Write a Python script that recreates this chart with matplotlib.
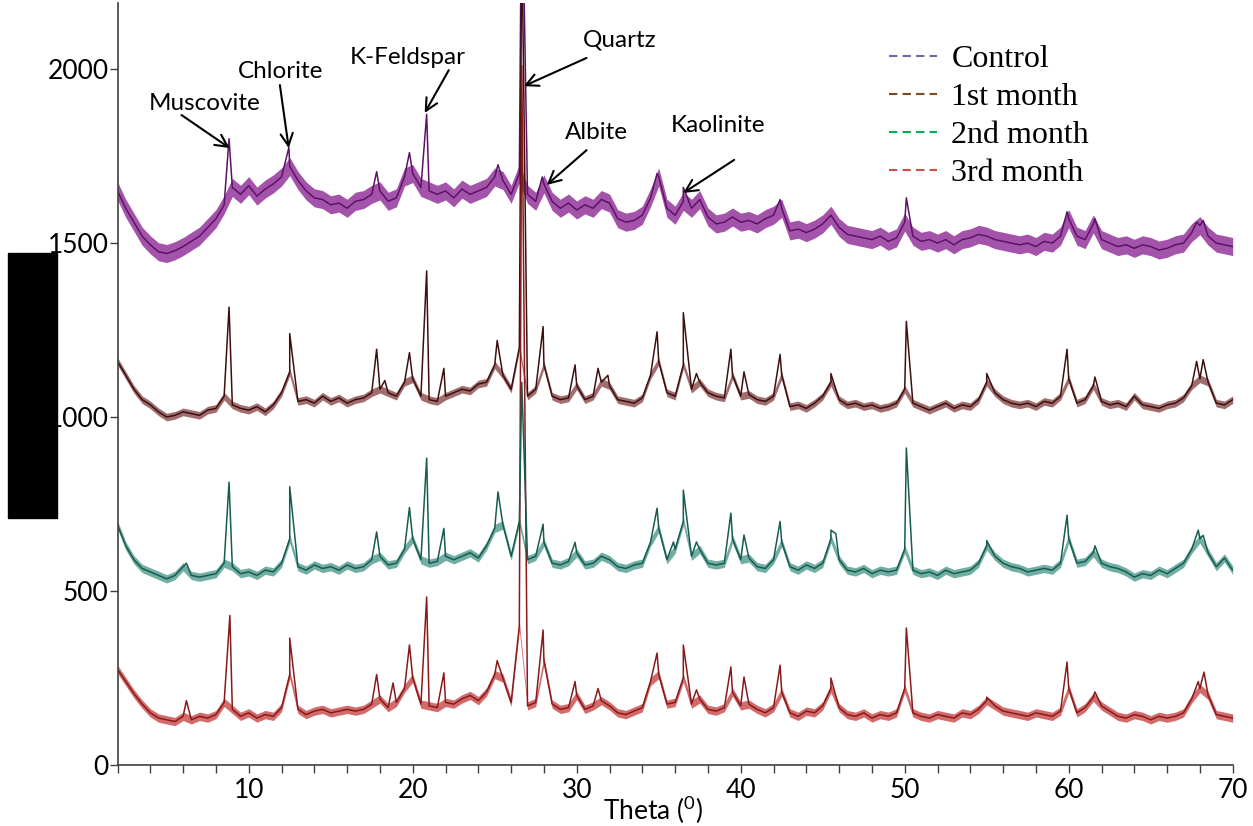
import numpy as np
import matplotlib
matplotlib.use("Agg")
import matplotlib.pyplot as plt
from matplotlib.lines import Line2D
from matplotlib.patches import Rectangle

# 2-theta sampling grid for the background (0.5 deg steps, 2..70)
theta_grid = np.arange(2.0, 70.01, 0.5)

# ---- Control ----
control_base = [
    1650, 1600, 1560, 1520, 1495, 1475, 1470, 1478, 1490, 1505,
    1520, 1545, 1570, 1610, 1660, 1640, 1665, 1635, 1655, 1670,
    1690, 1720, 1680, 1650, 1630, 1625, 1610, 1615, 1600, 1620,
    1625, 1640, 1650, 1620, 1630, 1690, 1700, 1660, 1650, 1640,
    1650, 1630, 1655, 1640, 1650, 1660, 1690, 1680, 1640, 1700,
    1640, 1620, 1670, 1620, 1600, 1615, 1595, 1610, 1600, 1625,
    1615, 1570, 1560, 1565, 1580, 1630, 1690, 1600, 1580, 1620,
    1600, 1625, 1575, 1555, 1560, 1575, 1560, 1565, 1555, 1570,
    1580, 1600, 1535, 1540, 1530, 1540, 1555, 1580, 1545, 1525,
    1520, 1515, 1510, 1520, 1505, 1515, 1560, 1520, 1505, 1510,
    1500, 1510, 1495, 1510, 1515, 1525, 1520, 1510, 1505, 1500,
    1495, 1500, 1490, 1505, 1500, 1520, 1570, 1520, 1510, 1555,
    1510, 1500, 1490, 1495, 1485, 1495, 1490, 1480, 1485, 1495,
    1500, 1530, 1550, 1520, 1500, 1495, 1490,
]
control_peak_theta = [8.8, 12.45, 17.8, 19.8, 20.85, 25.2, 26.65, 27.9, 34.9,
                      36.5, 42.4, 50.1, 59.9, 61.6, 67.8, 68.2]
control_peak_int = [1800, 1775, 1705, 1760, 1870, 1725, 2600, 1690, 1700,
                    1660, 1625, 1630, 1590, 1570, 1560, 1565]

# ---- 1st month ----
month1_base = [
    1160, 1120, 1080, 1050, 1035, 1015, 1000, 1005, 1015, 1010,
    1005, 1020, 1025, 1060, 1035, 1025, 1020, 1030, 1015, 1035,
    1070, 1130, 1045, 1050, 1040, 1060, 1045, 1055, 1040, 1050,
    1055, 1070, 1080, 1070, 1060, 1100, 1110, 1060, 1050, 1045,
    1060, 1070, 1080, 1075, 1095, 1100, 1150, 1120, 1080, 1200,
    1060, 1080, 1150, 1060, 1050, 1055, 1090, 1050, 1060, 1100,
    1090, 1050, 1045, 1040, 1055, 1120, 1160, 1070, 1060, 1150,
    1080, 1100, 1070, 1060, 1055, 1120, 1060, 1065, 1050, 1045,
    1060, 1120, 1030, 1035, 1025, 1040, 1060, 1100, 1050, 1035,
    1040, 1030, 1035, 1025, 1030, 1040, 1080, 1040, 1030, 1020,
    1030, 1040, 1025, 1035, 1030, 1050, 1100, 1070, 1050, 1040,
    1035, 1040, 1030, 1045, 1040, 1060, 1110, 1040, 1050, 1090,
    1045, 1035, 1040, 1030, 1060, 1035, 1030, 1025, 1035, 1040,
    1055, 1090, 1110, 1100, 1040, 1035, 1050,
]
month1_peak_theta = [8.8, 12.5, 17.8, 18.3, 19.8, 20.85, 21.9, 25.15, 26.65,
                     27.95, 29.9, 31.3, 31.9, 34.9, 36.5, 37.3, 39.4, 40.2,
                     42.4, 45.5, 50.1, 55.0, 59.9, 61.6, 67.8, 68.2]
month1_peak_int = [1316, 1240, 1195, 1105, 1185, 1420, 1140, 1220, 2400,
                   1260, 1150, 1140, 1120, 1245, 1300, 1125, 1195, 1130,
                   1180, 1125, 1275, 1125, 1195, 1115, 1160, 1165]

# ---- 2nd month ----
month2_base = [
    690, 630, 590, 565, 555, 545, 535, 545, 570, 545,
    540, 545, 550, 580, 570, 550, 555, 545, 560, 555,
    580, 650, 570, 560, 575, 565, 570, 560, 575, 565,
    570, 590, 600, 575, 580, 620, 650, 590, 580, 585,
    600, 590, 600, 610, 595, 630, 680, 690, 600, 700,
    590, 600, 640, 580, 575, 585, 610, 575, 580, 600,
    590, 570, 565, 575, 580, 640, 680, 590, 620, 700,
    600, 620, 580, 575, 580, 650, 590, 595, 570, 565,
    590, 640, 570, 560, 575, 565, 580, 650, 590, 560,
    555, 565, 550, 560, 555, 560, 620, 560, 550, 555,
    545, 560, 550, 555, 560, 580, 630, 600, 580, 570,
    565, 555, 560, 565, 560, 580, 650, 580, 585, 610,
    580, 570, 565, 555, 540, 550, 545, 560, 550, 565,
    580, 620, 650, 610, 570, 595, 560,
]
month2_peak_theta = [6.2, 8.8, 12.5, 17.8, 19.8, 20.85, 21.9, 25.2, 26.65,
                     27.95, 29.9, 34.9, 35.9, 36.5, 37.3, 39.4, 40.2, 42.4,
                     45.5, 45.8, 50.1, 55.0, 59.9, 61.6, 67.9, 68.2]
month2_peak_int = [580, 813, 800, 670, 740, 882, 680, 785, 1100,
                   692, 640, 738, 641, 790, 641, 724, 661, 700,
                   675, 665, 911, 645, 718, 630, 675, 660]

# ---- 3rd month ----
month3_base = [
    275, 240, 205, 175, 150, 135, 130, 125, 140, 130,
    140, 135, 145, 180, 160, 140, 150, 135, 145, 140,
    165, 260, 160, 145, 155, 160, 150, 155, 160, 155,
    160, 175, 190, 165, 180, 220, 250, 175, 170, 165,
    180, 175, 190, 200, 185, 210, 260, 250, 180, 400,
    170, 180, 300, 175, 160, 165, 200, 160, 170, 185,
    170, 150, 145, 155, 165, 240, 260, 175, 180, 250,
    175, 190, 160, 155, 165, 210, 170, 175, 160, 150,
    165, 210, 150, 140, 155, 150, 170, 220, 165, 145,
    140, 150, 135, 145, 140, 150, 220, 150, 140, 135,
    145, 140, 135, 150, 145, 160, 185, 170, 155, 150,
    145, 140, 150, 145, 140, 155, 220, 150, 165, 195,
    170, 155, 140, 135, 145, 140, 130, 140, 135, 140,
    150, 190, 220, 200, 145, 140, 135,
]
month3_peak_theta = [6.2, 8.85, 12.5, 17.8, 18.8, 19.8, 20.85, 21.9, 25.15,
                     26.65, 27.95, 29.9, 31.3, 34.9, 36.5, 37.3, 39.4, 40.2,
                     42.4, 45.5, 50.1, 55.0, 59.9, 61.6, 67.9, 68.25]
month3_peak_int = [185, 430, 365, 260, 236, 345, 483, 265, 300,
                   2010, 388, 240, 220, 322, 345, 216, 282, 253,
                   287, 250, 394, 195, 296, 210, 240, 267]

# half-height of the noise band around each background
noise_halfwidth = [26, 11, 12, 12]

series_names = ["Control", "1st month", "2nd month", "3rd month"]
line_colors = ["#5e1266", "#3e0f0f", "#175c50", "#8a1a1a"]
band_colors = ["#8e2896", "#6e2020", "#268373", "#c02c2c"]
band_alpha = [0.8, 0.65, 0.65, 0.7]
legend_colors = ["#7a62a0", "#7e4a1c", "#00b050", "#c8504d"]

plt.rcParams['font.family'] = ['Lato', 'DejaVu Sans']
plt.rcParams['mathtext.fontset'] = 'custom'
plt.rcParams['mathtext.rm'] = 'Lato'
plt.rcParams['mathtext.it'] = 'Lato'

fig = plt.figure(figsize=(12.53, 8.26), dpi=100)
ax = fig.add_axes([0.0938, 0.0738, 0.8900, 0.9226])


def merged(base, pk_t, pk_i):
    t = np.concatenate([theta_grid, pk_t])
    v = np.concatenate([np.array(base, float), pk_i])
    order = np.argsort(t, kind="stable")
    return t[order], v[order]


bases = {
    "Control": control_base, "1st month": month1_base,
    "2nd month": month2_base, "3rd month": month3_base,
}
data = {
    "Control": merged(control_base, control_peak_theta, control_peak_int),
    "1st month": merged(month1_base, month1_peak_theta, month1_peak_int),
    "2nd month": merged(month2_base, month2_peak_theta, month2_peak_int),
    "3rd month": merged(month3_base, month3_peak_theta, month3_peak_int),
}

# drawing order follows the overlap seen at the quartz peak
for name in ["Control", "1st month", "3rd month", "2nd month"]:
    i = series_names.index(name)
    b = np.array(bases[name], float)
    hw = noise_halfwidth[i]
    ax.fill_between(theta_grid, b - hw, b + hw, color=band_colors[i],
                    alpha=band_alpha[i], lw=0)
    t, v = data[name]
    ax.plot(t, v, color=line_colors[i], lw=1.1)

ax.set_xlim(2, 70)
ax.set_ylim(0, 2190)
ax.set_xticks([10, 20, 30, 40, 50, 60, 70])
ax.set_xticks(np.arange(2, 71, 2), minor=True)
ax.set_yticks([0, 500, 1000, 1500, 2000])
ax.tick_params(axis='both', which='both', direction='out', length=6,
               width=1, color='#404040', labelsize=19)
ax.tick_params(axis='y', pad=0.5)
ax.tick_params(axis='x', pad=3)
for s in ["top", "right"]:
    ax.spines[s].set_visible(False)
for s in ["left", "bottom"]:
    ax.spines[s].set_color('#404040')
    ax.spines[s].set_linewidth(1.2)

fig.text(653 / 1253, 1 - 810 / 826, r"Theta ($^{0}$)", fontsize=19,
         ha="center", va="center")

# mineral labels with arrows
labels = [
    ("Muscovite", (7.3, 1902), (5.9, 1868), (8.84, 1773)),
    ("Chlorite", (11.95, 1994), (11.9, 1954), (12.44, 1773)),
    ("K-Feldspar", (19.7, 2032), (22.2, 1997), (20.73, 1874)),
    ("Quartz", (32.6, 2083), (30.6, 2032), (26.77, 1951)),
    ("Albite", (31.2, 1819), (30.6, 1767), (28.17, 1667)),
    ("Kaolinite", (38.6, 1839), (39.6, 1739), (36.5, 1644)),
]
for txt, tpos, tail, tip in labels:
    ax.text(tpos[0], tpos[1], txt, fontsize=17.5, ha="center", va="center")
    ax.annotate("", xy=tip, xytext=tail,
                arrowprops=dict(arrowstyle="->", color="black", lw=1.5,
                                mutation_scale=22, shrinkA=0, shrinkB=0))

handles = [Line2D([0], [0], color=c, lw=1.5, dashes=(4, 2.5))
           for c in legend_colors]
leg = ax.legend(handles, series_names, loc="upper left",
                bbox_to_anchor=(889 / 1253, 1 - 45 / 826),
                bbox_transform=fig.transFigure, frameon=False,
                prop={'family': 'Liberation Serif', 'size': 23},
                handlelength=1.5, handletextpad=0.45, labelspacing=0.27,
                borderpad=0, borderaxespad=0)
leg.set_zorder(10)

# redaction block on the left
fig.patches.append(Rectangle((8 / 1253, 1 - 518 / 826), 49 / 1253, 265 / 826,
                             transform=fig.transFigure, color="black",
                             zorder=5))

fig.savefig("out.png", dpi=100)
